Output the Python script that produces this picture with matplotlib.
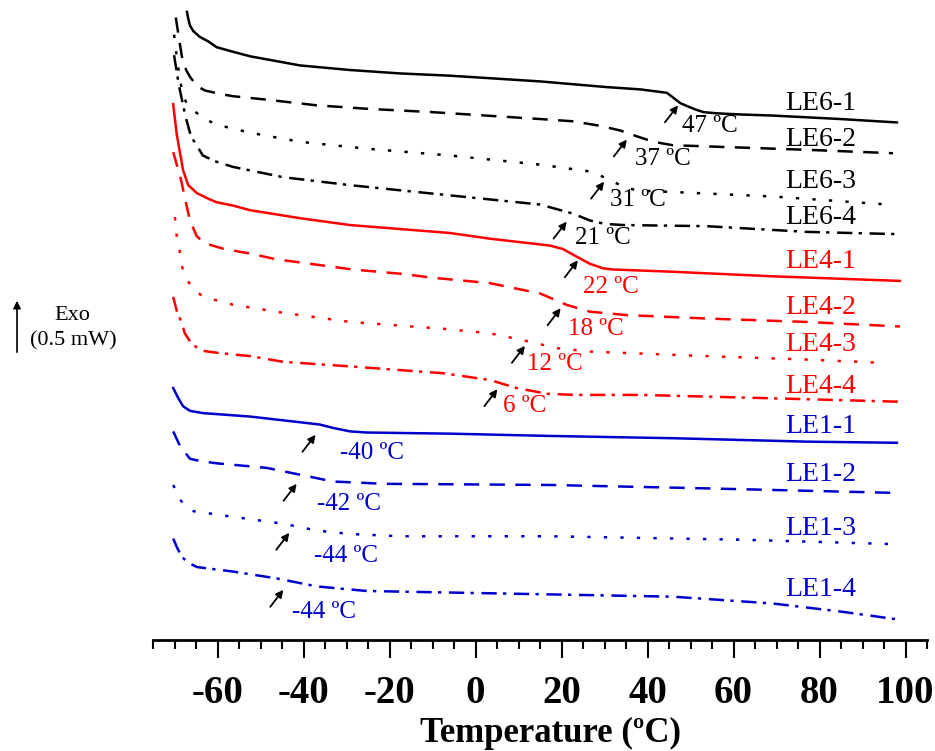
import matplotlib

matplotlib.use("Agg")

import matplotlib.pyplot as plt
from matplotlib.ticker import MultipleLocator

# DSC traces, heat flow shifted for clarity (mW), temperature in degC
le6_1_t = [-67.1, -66.8, -66.4, -65.6, -64.1, -62.1, -60.2, -56.4, -52.4, -46.6, -40.8, -29.2,
           -17.6, -5.9, 15.0, 30.5, 38.3, 44.5, 45.9, 47.6, 49.4, 51.4, 53.1, 56.1, 61.5, 69.3,
           84.8, 98.0]
le6_1_h = [5.51, 5.45, 5.39, 5.34, 5.29, 5.25, 5.20, 5.16, 5.12, 5.08, 5.04, 5.00,
           4.97, 4.95, 4.90, 4.85, 4.83, 4.80, 4.76, 4.71, 4.68, 4.65, 4.63, 4.62, 4.61, 4.60,
           4.57, 4.54]

le6_2_t = [-69.7, -68.3, -67.3, -66.4, -64.8, -62.9, -59.4, -56.4, -48.6, -36.9, -25.3, -9.9,
           15.0, 22.7, 29.0, 33.6, 36.6, 39.8, 42.9, 45.9, 61.5, 77.0, 97.1]
le6_2_h = [5.46, 5.12, 5.00, 4.94, 4.86, 4.82, 4.79, 4.77, 4.74, 4.69, 4.66, 4.63,
           4.57, 4.55, 4.51, 4.47, 4.43, 4.39, 4.36, 4.34, 4.32, 4.30, 4.27]

le6_3_t = [-70.1, -69.4, -68.7, -68.0, -66.9, -65.7, -63.4, -60.2, -52.4, -40.8, -25.3, -5.9,
           15.0, 26.6, 30.5, 35.2, 39.4, 45.9, 69.2, 95.9]
le6_3_h = [5.31, 5.09, 4.91, 4.77, 4.69, 4.65, 4.58, 4.52, 4.45, 4.37, 4.31, 4.25,
           4.17, 4.11, 4.05, 3.96, 3.94, 3.93, 3.89, 3.82]

le6_4_t = [-70.1, -69.0, -68.0, -67.2, -66.4, -65.7, -63.4, -60.6, -56.4, -44.8, -29.2, -5.9,
           15.0, 22.7, 26.6, 30.1, 34.3, 53.8, 77.0, 98.3]
le6_4_h = [5.13, 4.87, 4.69, 4.56, 4.45, 4.39, 4.25, 4.20, 4.15, 4.06, 3.99, 3.90,
           3.82, 3.74, 3.68, 3.65, 3.64, 3.63, 3.58, 3.56]

le4_1_t = [-70.3, -69.5, -68.7, -68.0, -66.8, -64.8, -62.1, -60.2, -56.3, -52.4, -40.8, -29.2,
           -5.9, 3.4, 12.7, 17.3, 20.3, 22.7, 26.6, 29.7, 32.0, 46.0, 69.3, 98.7]
le4_1_h = [4.70, 4.44, 4.27, 4.12, 3.99, 3.92, 3.87, 3.84, 3.81, 3.77, 3.70, 3.64,
           3.57, 3.52, 3.48, 3.46, 3.43, 3.38, 3.30, 3.26, 3.25, 3.23, 3.19, 3.15]

le4_2_t = [-70.3, -69.4, -68.5, -67.6, -66.4, -64.8, -62.9, -58.5, -52.4, -46.4, -34.5, -28.5,
           -16.6, -10.6, 3.4, 15.0, 21.2, 26.6, 35.2, 53.8, 77.0, 98.7]
le4_2_h = [4.28, 4.16, 4.04, 3.88, 3.68, 3.54, 3.48, 3.43, 3.39, 3.34, 3.28, 3.25,
           3.21, 3.18, 3.13, 3.04, 2.94, 2.88, 2.85, 2.82, 2.79, 2.75]

le4_3_t = [-69.9, -69.5, -68.7, -68.0, -66.0, -63.3, -56.3, -44.7, -29.2, -7.5, 3.4, 11.0,
           18.9, 26.6, 53.8, 77.0, 95.6]
le4_3_h = [3.71, 3.55, 3.39, 3.23, 3.09, 3.01, 2.94, 2.87, 2.79, 2.73, 2.69, 2.63,
           2.56, 2.53, 2.49, 2.46, 2.43]

le4_4_t = [-70.3, -69.5, -68.3, -67.6, -66.4, -64.1, -60.2, -52.4, -44.7, -29.2, -7.5, 3.4,
           9.6, 16.6, 23.1, 38.3, 69.2, 98.7]
le4_4_h = [3.01, 2.89, 2.78, 2.69, 2.62, 2.54, 2.52, 2.49, 2.44, 2.40, 2.34, 2.28,
           2.21, 2.16, 2.15, 2.15, 2.12, 2.09]

le1_1_t = [-70.3, -69.1, -68.0, -67.2, -66.4, -63.3, -52.4, -40.8, -36.2, -33.1, -29.2, -25.3,
           -5.9, 17.3, 45.9, 77.0, 98.0]
le1_1_h = [2.21, 2.12, 2.05, 2.03, 2.01, 1.99, 1.96, 1.91, 1.89, 1.86, 1.83, 1.82,
           1.81, 1.79, 1.77, 1.74, 1.73]

le1_2_t = [-70.3, -68.7, -66.4, -64.1, -60.2, -48.6, -40.8, -33.1, -26.9, -21.4, 17.3, 53.8, 98.0]
le1_2_h = [1.83, 1.70, 1.59, 1.57, 1.55, 1.51, 1.45, 1.39, 1.38, 1.37, 1.36, 1.33, 1.29]

le1_3_t = [-70.3, -68.7, -67.3, -65.6, -56.3, -44.7, -36.9, -29.2, -17.6, 17.3, 61.5, 98.3]
le1_3_h = [1.36, 1.23, 1.17, 1.13, 1.08, 1.02, 0.96, 0.93, 0.91, 0.91, 0.88, 0.84]

le1_4_t = [-70.3, -69.4, -68.3, -66.9, -64.8, -56.3, -46.2, -36.9, -25.3, 17.3, 45.9, 69.2,
           84.8, 98.3]
le1_4_h = [0.89, 0.81, 0.73, 0.68, 0.64, 0.60, 0.54, 0.47, 0.43, 0.40, 0.38, 0.32,
           0.25, 0.18]

sample_names = ["LE6-1", "LE6-2", "LE6-3", "LE6-4",
                "LE4-1", "LE4-2", "LE4-3", "LE4-4",
                "LE1-1", "LE1-2", "LE1-3", "LE1-4"]
temps = [le6_1_t, le6_2_t, le6_3_t, le6_4_t, le4_1_t, le4_2_t, le4_3_t, le4_4_t,
         le1_1_t, le1_2_t, le1_3_t, le1_4_t]
flows = [le6_1_h, le6_2_h, le6_3_h, le6_4_h, le4_1_h, le4_2_h, le4_3_h, le4_4_h,
         le1_1_h, le1_2_h, le1_3_h, le1_4_h]

# glass transition temperatures and where they are marked
tg_values = [47, 37, 31, 21, 22, 18, 12, 6, -40, -42, -44, -44]
tg_arrow_t = [47.1, 35.2, 29.9, 21.2, 23.8, 19.8, 11.5, 5.1, -37.2, -41.6, -43.3, -44.7]
tg_arrow_h = [4.69, 4.39, 4.02, 3.67, 3.33, 2.91, 2.58, 2.20, 1.80, 1.37, 0.94, 0.44]
tg_label_t = [48.0, 37.1, 31.3, 23.1, 25.0, 21.5, 12.0, 6.4, -31.5, -36.9, -37.6, -42.7]
tg_label_h = [4.51, 4.22, 3.86, 3.53, 3.10, 2.73, 2.42, 2.05, 1.64, 1.19, 0.74, 0.25]

name_label_t = 72.0
name_label_h = [4.71, 4.39, 4.02, 3.71, 3.32, 2.92, 2.59, 2.22, 1.87, 1.45, 0.98, 0.44]

group_colors = ["black", "#ff0000", "#0000cc"]
styles = ["-", (0, (11, 7.5)), (0, (2.4, 9.5)), (0, (11, 4.5, 2.4, 5.5))]

plt.rcParams["font.family"] = ["Liberation Serif", "DejaVu Serif"]
plt.rcParams["lines.scale_dashes"] = False
plt.rcParams["axes.unicode_minus"] = False

fig = plt.figure(figsize=(9.35, 7.51), dpi=100)
ax = fig.add_axes([153 / 935, 111 / 751, 774 / 935, 640 / 751])

for i, name in enumerate(sample_names):
    color = group_colors[i // 4]
    ax.plot(temps[i], flows[i], color=color, linestyle=styles[i % 4], lw=1.8)
    ax.text(name_label_t, name_label_h[i], name, color=color, fontsize=20,
            ha="left", va="center")
    ax.annotate("", xy=(tg_arrow_t[i], tg_arrow_h[i]), xytext=(-9.4, -12.2),
                textcoords="offset points",
                arrowprops=dict(arrowstyle="-|>", color="black", lw=1.3,
                                mutation_scale=11, shrinkA=0, shrinkB=0))
    ax.text(tg_label_t[i], tg_label_h[i], f"{tg_values[i]} ºC", color=color,
            fontsize=18, ha="left", va="center")

ax.set_xlim(-75, 105)
ax.set_ylim(0, 640 / 114)
ax.xaxis.set_major_locator(MultipleLocator(20))
ax.xaxis.set_minor_locator(MultipleLocator(5))
ax.tick_params(axis="x", which="major", length=13, width=1.5, pad=12,
               labelsize=28, direction="out")
ax.tick_params(axis="x", which="minor", length=6.5, width=1.5, direction="out")
for lab in ax.get_xticklabels():
    lab.set_fontweight("bold")
ax.set_yticks([])
for side in ["top", "left", "right"]:
    ax.spines[side].set_visible(False)
ax.spines["bottom"].set_linewidth(2)
ax.set_xlabel("Temperature (ºC)", fontsize=25, fontweight="bold", labelpad=4)
ax.xaxis.label.set_x(0.513)
ax.patch.set_visible(False)

# exotherm direction marker
fig.patches.append(matplotlib.patches.FancyArrowPatch(
    (17 / 935, 396 / 751), (17 / 935, 453 / 751), transform=fig.transFigure,
    arrowstyle="-|>", mutation_scale=11, lw=1.2, color="black"))
fig.text(72 / 935, 436 / 751, "Exo", fontsize=16, ha="center", va="center")
fig.text(73 / 935, 410 / 751, "(0.5 mW)", fontsize=16, ha="center", va="center")

fig.savefig("out.png", dpi=100)
